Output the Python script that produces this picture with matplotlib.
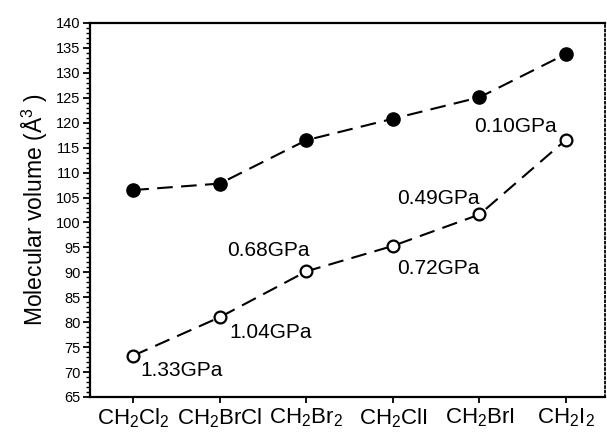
import matplotlib
matplotlib.use('Agg')
import matplotlib.pyplot as plt
from matplotlib.ticker import MultipleLocator

plt.rcParams['font.family'] = ['Liberation Sans', 'DejaVu Sans']

#%% data
molecules = ['CH_2Cl_2', 'CH_2BrCl', 'CH_2Br_2', 'CH_2ClI', 'CH_2BrI', 'CH_2I_2']
vol_ambient = [106.5, 107.8, 116.5, 120.8, 125.1, 133.8]
vol_pressure = [73.3, 81.0, 90.2, 95.3, 101.6, 116.6]
pressures = ['1.33GPa', '1.04GPa', '0.68GPa', '0.72GPa', '0.49GPa', '0.10GPa']

#%% plot
fig = plt.figure(figsize=(6.07, 4.33), dpi=100)
ax = fig.add_axes([90/607, 36/433, 515/607, 374/433])

x = list(range(len(molecules)))
ax.plot(x, vol_ambient, color='k', lw=1.5, dashes=(7.5, 4), marker='o', ms=9.5,
        mfc='k', mec='k')
ax.plot(x, vol_pressure, color='k', lw=1.5, dashes=(7.5, 4), marker='o', ms=8.5,
        mfc='white', mec='k', mew=1.6)

# pressure labels: (dx, dy) in points and horizontal alignment
offsets = [(5, -11, 'left'), (7, -11, 'left'), (2, 15, 'right'),
           (3, -16, 'left'), (0, 11.5, 'right'), (-6.5, 9.5, 'right')]
for xi, yi, lab, (dx, dy, ha) in zip(x, vol_pressure, pressures, offsets):
    ax.annotate(lab, (xi, yi), xytext=(dx, dy), textcoords='offset points',
                fontsize=15, ha=ha, va='center')

ax.set_xlim(-0.5, 5.45)
ax.set_ylim(65, 140)
ax.yaxis.set_major_locator(MultipleLocator(5))
ax.yaxis.set_minor_locator(MultipleLocator(1))
ax.set_xticks(x)
ax.set_xticklabels([r'$\mathregular{' + m + '}$' for m in molecules], fontsize=16)
ax.tick_params(axis='y', labelsize=10.5, direction='out', length=5, width=1.3, pad=2)
ax.tick_params(axis='y', which='minor', direction='out', length=3, width=1)
ax.tick_params(axis='x', direction='out', length=4, width=1.3, pad=3)
ax.set_ylabel(r'Molecular volume (Å$\mathregular{^3}$ )', fontsize=16.5, labelpad=4)

for s in ['left', 'bottom', 'top']:
    ax.spines[s].set_linewidth(1.6)
ax.spines['right'].set_linestyle((0, (1, 1.5)))
ax.spines['right'].set_linewidth(1.3)

fig.savefig('out.png', dpi=100)
